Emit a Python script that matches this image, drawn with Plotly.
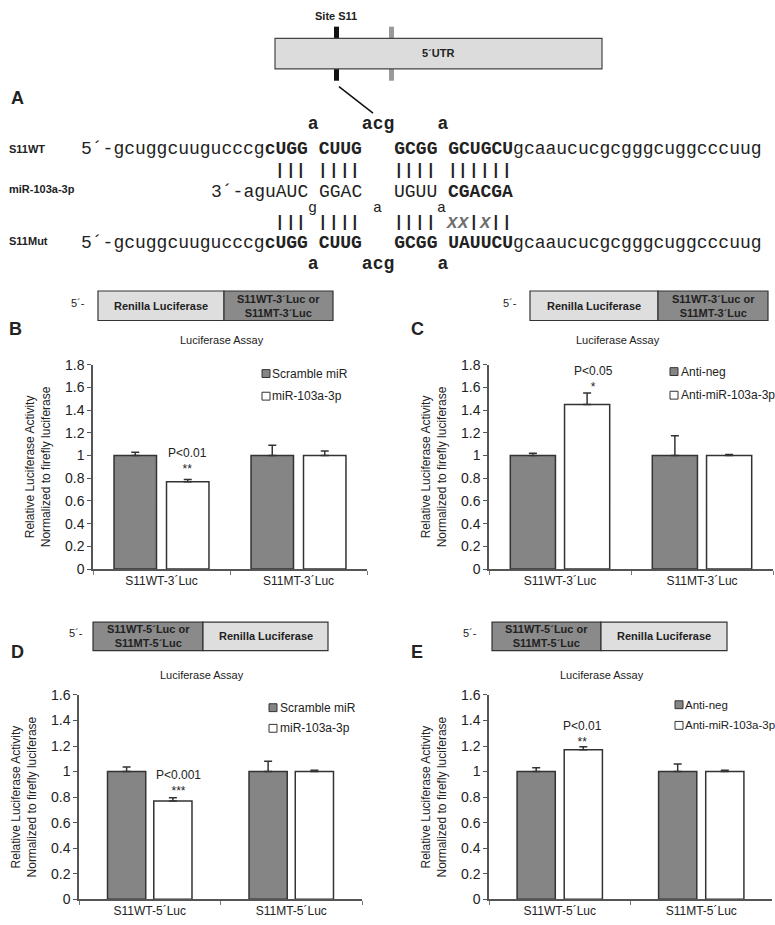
import plotly.graph_objects as go

W, H = 775, 925
def px(x): return x / W
def py(y): return 1 - y / H

ARIAL = "Arial, Liberation Sans, sans-serif"
MONO = "Courier New, Liberation Mono, monospace"
TXT = "#222222"

# ---------------- data ----------------
seq_wt_5 = "5´-gcuggcuugucccg"
seq_wt_core = "cUGG CUUG   GCGG GCUGCU"
seq_mut_core = "cUGG CUUG   GCGG UAUUCU"
seq_tail = "gcaaucucgcgggcuggcccuug"
# miR-103a-3p segments: (start column, text, bold)
mir_segments = [(12, "3´-aguAUC", False), (22, "GGAC", False), (29, "UGUU", False), (34, "CGACGA", True)]
bulge_top = "a    acg    a"
pair_idx = [18, 19, 20, 22, 23, 24, 25, 29, 30, 31, 32, 34, 35, 36, 37, 38, 39]
mut_mismatch = [34, 35, 37]
mir_bulges = [(21, "g"), (27, "a"), (33, "a")]

cats_3 = ["S11WT-3´Luc", "S11MT-3´Luc"]
cats_5 = ["S11WT-5´Luc", "S11MT-5´Luc"]

B_ctrl = [1.0, 1.0];  B_ctrl_err = [0.03, 0.09]
B_trt = [0.77, 1.0];  B_trt_err = [0.02, 0.04]
C_ctrl = [1.0, 1.0];  C_ctrl_err = [0.02, 0.175]
C_trt = [1.45, 1.0];  C_trt_err = [0.10, 0.01]
D_ctrl = [1.0, 1.0];  D_ctrl_err = [0.035, 0.08]
D_trt = [0.77, 1.0];  D_trt_err = [0.025, 0.01]
E_ctrl = [1.0, 1.0];  E_ctrl_err = [0.03, 0.06]
E_trt = [1.17, 1.0];  E_trt_err = [0.025, 0.01]

names_mir = ["Scramble miR", "miR-103a-3p"]
names_anti = ["Anti-neg", "Anti-miR-103a-3p"]

CTRL_COL = "#858585"
TRT_COL = "#ffffff"

fig = go.Figure()
shapes = []
ann = []

def text(x, y, s, size=12, bold=False, family=ARIAL, color=TXT, xanchor="center", angle=0):
    if bold:
        s = "<b>" + s + "</b>"
    ann.append(dict(x=px(x), y=py(y), xref="paper", yref="paper", text=s, showarrow=False,
                    font=dict(size=size, family=family, color=color), xanchor=xanchor,
                    yanchor="middle", textangle=angle, borderpad=0))

def rect(x0, y0, x1, y1, fill, line="#333333", lw=1.2):
    shapes.append(dict(type="rect", xref="paper", yref="paper", x0=px(x0), x1=px(x1),
                       y0=py(y1), y1=py(y0), fillcolor=fill, line=dict(color=line, width=lw)))

# ---------------- panel A ----------------
rect(334, 19, 339, 74, "#111111", line="#111111", lw=0)
rect(389, 19, 394, 74, "#9a9a9a", line="#9a9a9a", lw=0)
rect(275, 31, 602, 62, "#dcdcdc", line="#444444", lw=1.2)
text(336, 8, "Site S11", 11, True)
text(438, 46, "5´UTR", 11, True)
shapes.append(dict(type="line", xref="paper", yref="paper", x0=px(339), y0=py(80),
                   x1=px(373), y1=py(107), line=dict(color="#111111", width=1.5)))
text(17, 92, "A", 18, True)

NB = "\u00a0"
def sp(s):
    return s.replace(" ", NB)

X0 = 80
SZ = 18
CW = 10.8
def cx(i):
    return X0 + (i + 0.5) * CW

text(X0, 118, "<b>" + NB * 21 + sp(bulge_top) + "</b>", SZ, family=MONO, xanchor="left")
text(X0, 143, sp(seq_wt_5) + "<b>" + sp(seq_wt_core) + "</b>" + seq_tail, SZ, family=MONO, xanchor="left")
for i in pair_idx:
    text(cx(i), 166, "|", 16, True, family=MONO)
for start, seg, bold in mir_segments:
    text(X0 + start * CW, 187, seg, SZ, bold, family=MONO, xanchor="left")
for idx, ch in mir_bulges:
    text(cx(idx), 204, ch, 15, family=MONO)
for i in pair_idx:
    if i in mut_mismatch:
        text(cx(i), 219, "<i>X</i>", 17, True, family=MONO, color="#6e6e6e")
    else:
        text(cx(i), 219, "|", 16, True, family=MONO)
text(X0, 239, sp(seq_wt_5) + "<b>" + sp(seq_mut_core) + "</b>" + seq_tail, SZ, family=MONO, xanchor="left")
text(X0, 260, "<b>" + NB * 21 + sp(bulge_top) + "</b>", SZ, family=MONO, xanchor="left")
text(8, 143, "S11WT", 11, True, xanchor="left")
text(8, 184, "miR-103a-3p", 11, True, xanchor="left")
text(8, 237, "S11Mut", 11, True, xanchor="left")

# ---------------- construct boxes ----------------
LIGHT = "#dedede"
DARK = "#8a8a8a"
def construct(x0, xm, x1, y0, y1, left_text, right_text, left_fill, right_fill, px5):
    rect(x0, y0, xm, y1, left_fill)
    rect(xm, y0, x1, y1, right_fill)
    text((x0 + xm) / 2, (y0 + y1) / 2, left_text, 11, True)
    text((xm + x1) / 2, (y0 + y1) / 2, right_text, 11, True)
    text(px5, (y0 + y1) / 2 - 3, "5´-", 11)

construct(98, 224, 333, 288, 318, "Renilla Luciferase", "S11WT-3´Luc or<br>S11MT-3´Luc", LIGHT, DARK, 78)
construct(530, 658, 768, 288, 318, "Renilla Luciferase", "S11WT-3´Luc or<br>S11MT-3´Luc", LIGHT, DARK, 510)
construct(93, 203, 328, 625, 654, "S11WT-5´Luc or<br>S11MT-5´Luc", "Renilla Luciferase", DARK, LIGHT, 76)
construct(492, 601, 727, 625, 654, "S11WT-5´Luc or<br>S11MT-5´Luc", "Renilla Luciferase", DARK, LIGHT, 470)

# ---------------- bar panels ----------------
panels = [
    dict(lab="B", lx=15, ly=327, title=(222, 338), xd=(93, 367), yd=(363, 571), ymax=1.8,
         cats=cats_3, ctrl=B_ctrl, ctrl_err=B_ctrl_err, trt=B_trt, trt_err=B_trt_err,
         names=names_mir, bw=0.31, gap=0.073, leg=(262, 271, 372, 395), lfs=12,
         p=("P<0.01", "**", 187, 455)),
    dict(lab="C", lx=417, ly=327, title=(618, 338), xd=(489, 773), yd=(363, 571), ymax=1.8,
         cats=cats_3, ctrl=C_ctrl, ctrl_err=C_ctrl_err, trt=C_trt, trt_err=C_trt_err,
         names=names_anti, bw=0.318, gap=0.064, leg=(670, 680, 370, 394), lfs=12,
         p=("P<0.05", "*", 593, 372)),
    dict(lab="D", lx=17, ly=655, title=(202, 679), xd=(79, 362), yd=(699, 907), ymax=1.6,
         cats=cats_5, ctrl=D_ctrl, ctrl_err=D_ctrl_err, trt=D_trt, trt_err=D_trt_err,
         names=names_mir, bw=0.27, gap=0.057, leg=(269, 279, 712, 733), lfs=12,
         p=("P<0.001", "***", 178, 783)),
    dict(lab="E", lx=417, ly=655, title=(602, 679), xd=(489, 772), yd=(699, 907), ymax=1.6,
         cats=cats_5, ctrl=E_ctrl, ctrl_err=E_ctrl_err, trt=E_trt, trt_err=E_trt_err,
         names=names_anti, bw=0.27, gap=0.063, leg=(675, 684, 709, 730), lfs=11.5,
         p=("P<0.01", "**", 582, 733)),
]

layout_axes = {}
for i, P in enumerate(panels):
    n = "" if i == 0 else str(i + 1)
    xa, ya = "x" + n, "y" + n
    for k, (vals, errs, fill, nm, off) in enumerate([
        (P["ctrl"], P["ctrl_err"], CTRL_COL, P["names"][0], -P["bw"] - P["gap"] / 2),
        (P["trt"], P["trt_err"], TRT_COL, P["names"][1], P["gap"] / 2),
    ]):
        fig.add_trace(go.Bar(
            x=P["cats"], y=vals, name=nm, width=P["bw"], offset=off,
            marker=dict(color=fill, line=dict(color="#333333", width=1.5)),
            error_y=dict(type="data", array=errs, arrayminus=[0] * len(errs), symmetric=False,
                         color="#333333", thickness=1.5, width=4),
            xaxis=xa, yaxis=ya, showlegend=False))
        # legend entry (key square + label)
        sx, tx, ly1, ly2 = P["leg"]
        yy = ly1 if k == 0 else ly2
        rect(sx, yy - 4, sx + 8, yy + 4, fill, line="#333333", lw=1)
        text(tx, yy, nm, P["lfs"], xanchor="left")
    layout_axes["xaxis" + n] = dict(
        domain=[px(P["xd"][0]), px(P["xd"][1])], anchor=ya, type="category",
        range=[-0.5, 1.5], showline=True, linecolor="#555555", linewidth=1.5,
        ticks="outside", tickson="boundaries", ticklen=4, tickcolor="#777777",
        tickfont=dict(size=12, family=ARIAL, color=TXT), showgrid=False, zeroline=False)
    layout_axes["yaxis" + n] = dict(
        domain=[py(P["yd"][1]), py(P["yd"][0])], anchor=xa, range=[0, P["ymax"]], dtick=0.2,
        showline=True, linecolor="#555555", linewidth=1.5, ticks="outside", ticklen=4,
        tickcolor="#555555", tickfont=dict(size=14, family=ARIAL, color=TXT),
        showgrid=False, zeroline=False,
        title=dict(text="Relative Luciferase Activity<br>Normalized to firefly luciferase",
                   font=dict(size=12, family=ARIAL, color=TXT), standoff=12))
    text(P["lx"], P["ly"], P["lab"], 18, True)
    text(P["title"][0], P["title"][1], "Luciferase Assay", 11)
    # significance label: p-value line with stars underneath
    text(P["p"][2], P["p"][3] + 6, P["p"][0] + "<br>" + P["p"][1], 12)

fig.update_layout(
    width=W, height=H, margin=dict(l=0, r=0, t=0, b=0),
    paper_bgcolor="white", plot_bgcolor="white", barmode="overlay", showlegend=False,
    shapes=shapes, annotations=ann, **layout_axes)

fig.write_html("out.html", config={"displayModeBar": False},
               post_script="document.body.style.margin='0px';")
